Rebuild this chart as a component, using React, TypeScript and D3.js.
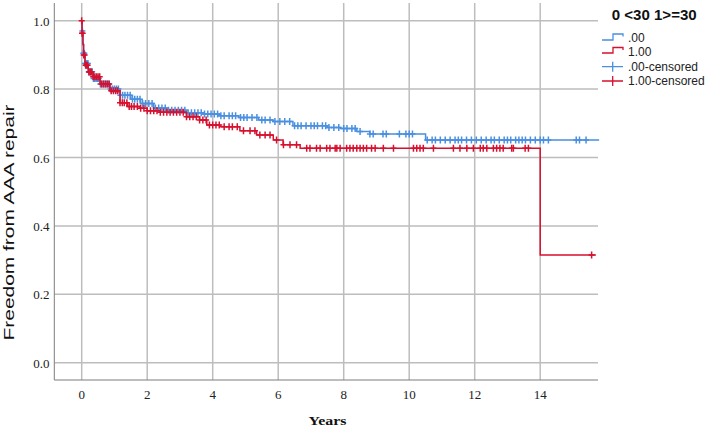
import React from 'react';
import * as d3 from 'd3';

// Kaplan-Meier steps: [years, survival]
const group0Steps: [number, number][] = [
  [0, 1.0], [0.01, 0.97], [0.03, 0.934], [0.05, 0.905], [0.1, 0.875], [0.2, 0.851],
  [0.35, 0.831], [0.56, 0.815], [0.86, 0.8], [1.17, 0.782], [1.5, 0.77], [1.8, 0.758],
  [2.2, 0.745], [2.6, 0.738], [3.2, 0.731], [3.7, 0.727], [4.2, 0.722], [4.8, 0.717],
  [5.4, 0.71], [5.85, 0.705], [6.45, 0.693], [7.5, 0.688], [7.9, 0.685], [8.4, 0.676],
  [8.8, 0.669], [10.5, 0.651], [15.8, 0.651],
];
const group1Steps: [number, number][] = [
  [0, 1.0], [0.01, 0.963], [0.04, 0.93], [0.06, 0.9], [0.1, 0.87], [0.2, 0.85],
  [0.35, 0.836], [0.56, 0.815], [0.86, 0.795], [1.17, 0.76], [1.4, 0.749], [1.78, 0.744],
  [2.0, 0.737], [2.4, 0.732], [3.2, 0.719], [3.6, 0.71], [3.82, 0.695], [4.22, 0.69],
  [4.83, 0.678], [5.34, 0.666], [5.85, 0.651], [6.15, 0.637], [6.67, 0.627], [14.0, 0.315],
  [15.7, 0.315],
];

// censored observations (years)
const group0Censored = [
  0.02, 0.05, 0.08, 0.1, 0.13, 0.16, 0.19, 0.22, 0.25, 0.28, 0.32, 0.36, 0.4, 0.44, 0.48, 0.52,
  0.57, 0.62, 0.67, 0.72, 0.77, 0.82, 0.88, 0.94, 1.0, 1.06, 1.12, 1.18, 1.25, 1.32, 1.4, 1.48,
  1.55, 1.62, 1.7, 1.78, 1.86, 1.95, 2.05, 2.15, 2.25, 2.35, 2.45, 2.55, 2.65, 2.75, 2.85, 2.95,
  3.05, 3.15, 3.25, 3.35, 3.45, 3.55, 3.65, 3.75, 3.85, 3.95, 4.05, 4.15, 4.25, 4.35, 4.5, 4.6,
  4.7, 4.85, 4.95, 5.05, 5.2, 5.35, 5.5, 5.6, 5.75, 5.9, 6.05, 6.2, 6.35, 6.5, 6.6, 6.7, 6.85,
  7.0, 7.1, 7.2, 7.35, 7.45, 7.55, 7.7, 7.85, 8.0, 8.1, 8.25, 8.35, 8.5, 8.8, 8.9, 9.2, 9.3,
  9.7, 9.9, 10.0, 10.1, 10.55, 10.7, 10.8, 10.95, 11.1, 11.25, 11.4, 11.5, 11.6, 11.75, 11.9,
  12.05, 12.2, 12.35, 12.5, 12.6, 12.75, 12.9, 13.0, 13.1, 13.25, 13.35, 13.45, 13.55, 13.7,
  13.85, 14.0, 14.1, 14.25, 15.1, 15.2, 15.4,
];
const group1Censored = [
  0.0, 0.01, 0.03, 0.06, 0.09, 0.12, 0.15, 0.18, 0.22, 0.26, 0.3, 0.35, 0.4, 0.45, 0.5, 0.55, 0.6,
  0.66, 0.72, 0.78, 0.84, 0.9, 0.97, 1.04, 1.1, 1.17, 1.24, 1.3, 1.38, 1.45, 1.52, 1.6, 1.7,
  1.8, 1.9, 2.0, 2.1, 2.2, 2.3, 2.4, 2.5, 2.6, 2.7, 2.8, 2.9, 3.0, 3.1, 3.2, 3.3, 3.4, 3.5,
  3.6, 3.7, 3.8, 3.9, 4.0, 4.1, 4.2, 4.35, 4.5, 4.6, 4.75, 4.94, 5.14, 5.29, 5.44, 5.6, 5.75,
  5.95, 6.16, 6.36, 6.56, 6.87, 6.97, 7.17, 7.28, 7.48, 7.58, 7.74, 7.79, 7.89, 8.09, 8.19,
  8.29, 8.4, 8.5, 8.6, 8.7, 8.85, 8.96, 9.21, 9.52, 10.13, 10.23, 10.33, 10.43, 10.74, 11.35,
  11.55, 11.76, 11.96, 12.17, 12.26, 12.37, 12.57, 12.67, 12.77, 12.87, 13.13, 13.18, 13.54,
  13.64, 15.57,
];

const xTicks = [0, 2, 4, 6, 8, 10, 12, 14];
const yTicks = [0.0, 0.2, 0.4, 0.6, 0.8, 1.0];
const legendTitle = '0 <30 1>=30';
const legendLabels = ['.00', '1.00', '.00-censored', '1.00-censored'];

const BLUE = '#4a8fe0';
const RED = '#d6102e';

function survivalAt(steps: [number, number][], t: number) {
  let s = steps[0][1];
  for (const [tt, ss] of steps) if (tt <= t) s = ss;
  return s;
}

export default function App() {
  const left = 54.3, right = 598, top = 3, bottom = 380;

  const x = d3.scaleLinear().domain([0, 14]).range([81.7, 540.2]);
  const y = d3.scaleLinear().domain([0, 1]).range([362.7, 20.7]);

  const line = d3.line<[number, number]>()
    .x(d => x(d[0]))
    .y(d => y(d[1]))
    .curve(d3.curveStepAfter);

  const marks = (times: number[], steps: [number, number][], color: string) =>
    times.map((t, i) => {
      const cx = x(t), cy = y(survivalAt(steps, t));
      return (
        <path key={i} d={`M${cx - 3},${cy}H${cx + 3}M${cx},${cy - 3.5}V${cy + 3.5}`}
          stroke={color} strokeWidth={1.5} fill="none" />
      );
    });

  return (
    <svg width={709} height={428} style={{ position: 'absolute', left: 0, top: 0, background: '#fff' }}>
      {/* grid */}
      {yTicks.map(v => (
        <line key={'gy' + v} x1={left} x2={right} y1={y(v)} y2={y(v)} stroke="#bdbdbd" strokeWidth={1.5} />
      ))}
      {xTicks.map(v => (
        <line key={'gx' + v} x1={x(v)} x2={x(v)} y1={top} y2={bottom} stroke="#bdbdbd" strokeWidth={1.5} />
      ))}
      {/* axes */}
      <line x1={left} x2={left} y1={top} y2={bottom} stroke="#7d7d7d" strokeWidth={1} />
      <line x1={left} x2={right} y1={bottom} y2={bottom} stroke="#7d7d7d" strokeWidth={1} />

      {yTicks.map(v => (
        <text key={'ty' + v} x={49.5} y={y(v) + 5} textAnchor="end"
          fontFamily="Liberation Serif, Times New Roman, serif" fontSize={13} fill="#222">
          {v.toFixed(1)}
        </text>
      ))}
      {xTicks.map(v => (
        <text key={'tx' + v} x={x(v)} y={398.5} textAnchor="middle"
          fontFamily="Liberation Serif, Times New Roman, serif" fontSize={13} fill="#222">
          {v}
        </text>
      ))}
      <text x={327.5} y={425} textAnchor="middle" fontFamily="Liberation Serif, Times New Roman, serif"
        fontWeight="bold" fontSize={13} textLength={38} lengthAdjust="spacingAndGlyphs" fill="#111">Years</text>
      <text transform="translate(14,222.5) rotate(-90)" textAnchor="middle"
        fontFamily="Liberation Sans, Arial, sans-serif" fontSize={15} textLength={236}
        lengthAdjust="spacingAndGlyphs" fill="#111">Freedom from AAA repair</text>

      {/* curves */}
      <path d={line(group0Steps) || ''} stroke={BLUE} strokeWidth={1.5} fill="none" />
      {marks(group0Censored, group0Steps, BLUE)}
      <path d={line(group1Steps) || ''} stroke={RED} strokeWidth={1.5} fill="none" />
      {marks(group1Censored, group1Steps, RED)}

      {/* legend */}
      <text x={611.7} y={20} fontFamily="Liberation Sans, Arial, sans-serif" fontWeight="bold"
        fontSize={14} textLength={85} lengthAdjust="spacingAndGlyphs" fill="#111">{legendTitle}</text>
      <path d="M602,40H613V34H623V36.5" stroke={BLUE} strokeWidth={1.3} fill="none" />
      <path d="M602,53H613V47.5H623V50" stroke={RED} strokeWidth={1.3} fill="none" />
      <path d="M602,66.7H623M612.7,61.7V71.7" stroke={BLUE} strokeWidth={1.3} fill="none" />
      <path d="M602,81H623M612.7,76V86" stroke={RED} strokeWidth={1.3} fill="none" />
      {legendLabels.map((l, i) => (
        <text key={l} x={628} y={[42, 55.5, 71, 85][i]} fontFamily="Liberation Sans, Arial, sans-serif"
          fontSize={12} fill="#222">{l}</text>
      ))}
    </svg>
  );
}
